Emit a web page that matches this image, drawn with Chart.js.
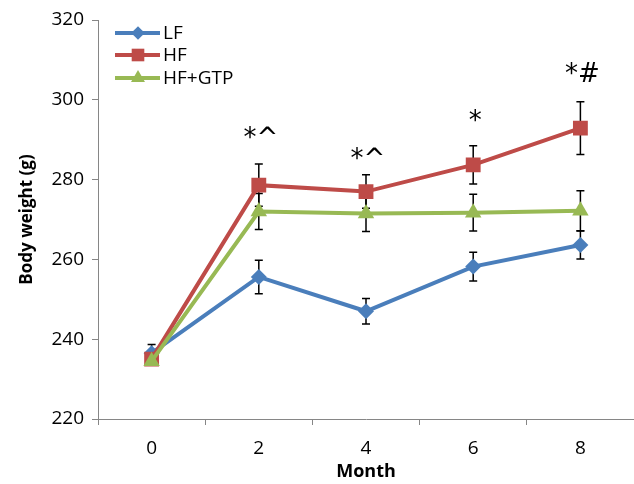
<!DOCTYPE html>
<html>
<head>
<meta charset="utf-8">
<script src="https://cdn.jsdelivr.net/npm/chart.js@4/dist/chart.umd.min.js"></script>
<style>
  html, body { margin: 0; padding: 0; background: #fff; }
  #wrap { width: 634px; height: 484px; }
</style>
</head>
<body>
<div id="wrap"><canvas id="weightChart" width="634" height="484"></canvas></div>
<script>
// Body weight over time, three diet groups
const months = ['0', '2', '4', '6', '8'];

const lfWeight = [236.5, 255.6, 247.0, 258.2, 263.6];
const lfErr = [2.2, 4.2, 3.2, 3.6, 3.5];

const hfWeight = [235.0, 278.6, 277.0, 283.7, 292.9];
const hfErr = [1.5, 5.3, 4.2, 4.8, 6.6];

const gtpWeight = [234.5, 272.0, 271.5, 271.7, 272.2];
const gtpErr = [1.0, 4.5, 4.5, 4.6, 5.0];

// significance marks: label and the weight level of their baseline
const sigLabels = ['', '*^', '*^', '*', '*#'];
const sigLevels = [null, 288.4, 283.2, 292.7, 304.5];

const yTicks = [220, 240, 260, 280, 300, 320];

const COLORS = {
    LF: '#4A7EBB',
    HF: '#BE4B48',
    GTP: '#98B954',
    AXIS: '#868686'
};

const FONT = "'Open Sans', 'Noto Sans', sans-serif";

function makeDataset(label, data, errs, color, style, radius, order) {
    return {
        label: label,
        data: data,
        errors: errs,
        borderColor: color,
        backgroundColor: color,
        borderWidth: 4,
        pointStyle: style,
        pointRadius: radius,
        pointHoverRadius: radius,
        pointBorderWidth: 0,
        tension: 0,
        fill: false,
        order: order
    };
}

// error bars go underneath the lines and markers
const errorBarPlugin = {
    id: 'errorBars',
    beforeDatasetsDraw(chart) {
        const ctx = chart.ctx;
        const y = chart.scales.y;
        ctx.save();
        ctx.strokeStyle = '#000';
        ctx.lineWidth = 1.5;
        chart.data.datasets.forEach((ds, i) => {
            const meta = chart.getDatasetMeta(i);
            meta.data.forEach((pt, j) => {
                const e = ds.errors[j];
                const top = y.getPixelForValue(ds.data[j] + e);
                const bot = y.getPixelForValue(ds.data[j] - e);
                ctx.beginPath();
                ctx.moveTo(pt.x, top);
                ctx.lineTo(pt.x, bot);
                ctx.moveTo(pt.x - 4, top);
                ctx.lineTo(pt.x + 4, top);
                ctx.moveTo(pt.x - 4, bot);
                ctx.lineTo(pt.x + 4, bot);
                ctx.stroke();
            });
        });
        ctx.restore();
    }
};

const sigPlugin = {
    id: 'sigMarks',
    afterDatasetsDraw(chart) {
        const ctx = chart.ctx;
        const x = chart.scales.x;
        const y = chart.scales.y;
        ctx.save();
        ctx.fillStyle = '#000';
        ctx.font = "26px 'DejaVu Sans', sans-serif";
        ctx.textAlign = 'center';
        ctx.textBaseline = 'alphabetic';
        sigLabels.forEach((txt, i) => {
            if (!txt) return;
            ctx.fillText(txt, x.getPixelForValue(i) + 2, y.getPixelForValue(sigLevels[i]));
        });
        ctx.restore();
    }
};

// legend inside the plot, top left
const legendPlugin = {
    id: 'insideLegend',
    afterDraw(chart) {
        const ctx = chart.ctx;
        const left = chart.chartArea.left + 17;
        const rows = [33, 55, 78];
        ctx.save();
        chart.data.datasets.forEach((ds, i) => {
            const cy = rows[i];
            ctx.strokeStyle = ds.borderColor;
            ctx.lineWidth = 4;
            ctx.beginPath();
            ctx.moveTo(left, cy);
            ctx.lineTo(left + 45, cy);
            ctx.stroke();
            ctx.fillStyle = ds.backgroundColor;
            Chart.helpers.drawPoint(ctx, {
                pointStyle: ds.pointStyle,
                radius: ds.pointRadius * 0.85,
                borderWidth: 0,
                rotation: 0
            }, left + 23, cy);
            ctx.fillStyle = '#000';
            ctx.font = '19px ' + FONT;
            ctx.textAlign = 'left';
            ctx.textBaseline = 'middle';
            ctx.fillText(ds.label, left + 48, cy + 1);
        });
        ctx.restore();
    }
};

const ctx = document.getElementById('weightChart').getContext('2d');
window.weightChart = new Chart(ctx, {
    type: 'line',
    data: {
        labels: months,
        datasets: [
            makeDataset('LF', lfWeight, lfErr, COLORS.LF, 'rectRot', 8, 2),
            makeDataset('HF', hfWeight, hfErr, COLORS.HF, 'rect', 10.5, 1),
            makeDataset('HF+GTP', gtpWeight, gtpErr, COLORS.GTP, 'triangle', 9.5, 0)
        ]
    },
    options: {
        responsive: false,
        animation: false,
        devicePixelRatio: 1,
        layout: { autoPadding: false, padding: { top: 20, right: 0, bottom: 0, left: 0 } },
        plugins: {
            legend: { display: false },
            tooltip: { enabled: false }
        },
        scales: {
            x: {
                type: 'category',
                offset: true,
                grid: {
                    offset: true,
                    drawOnChartArea: false,
                    drawTicks: true,
                    tickLength: 6,
                    color: COLORS.AXIS
                },
                border: { color: COLORS.AXIS, width: 1 },
                ticks: {
                    color: '#000',
                    padding: 12,
                    font: { family: FONT, size: 19 }
                },
                title: {
                    display: true,
                    text: 'Month',
                    color: '#000',
                    padding: { top: 0, bottom: 1 },
                    font: { family: FONT, size: 18, weight: 'bold' }
                },
                afterFit: s => { s.height = 65; }
            },
            y: {
                min: 220,
                max: 320,
                afterBuildTicks: s => { s.ticks = yTicks.map(v => ({ value: v })); },
                grid: {
                    drawOnChartArea: false,
                    drawTicks: true,
                    tickLength: 6,
                    color: COLORS.AXIS
                },
                border: { color: COLORS.AXIS, width: 1 },
                ticks: {
                    color: '#000',
                    padding: 8,
                    font: { family: FONT, size: 19 }
                },
                title: {
                    display: true,
                    text: 'Body weight (g)',
                    color: '#000',
                    padding: { top: 17, bottom: 0 },
                    font: { family: FONT, size: 17, weight: 'bold' }
                },
                afterFit: s => { s.width = 98; }
            }
        }
    },
    plugins: [errorBarPlugin, sigPlugin, legendPlugin]
});
</script>
</body>
</html>
